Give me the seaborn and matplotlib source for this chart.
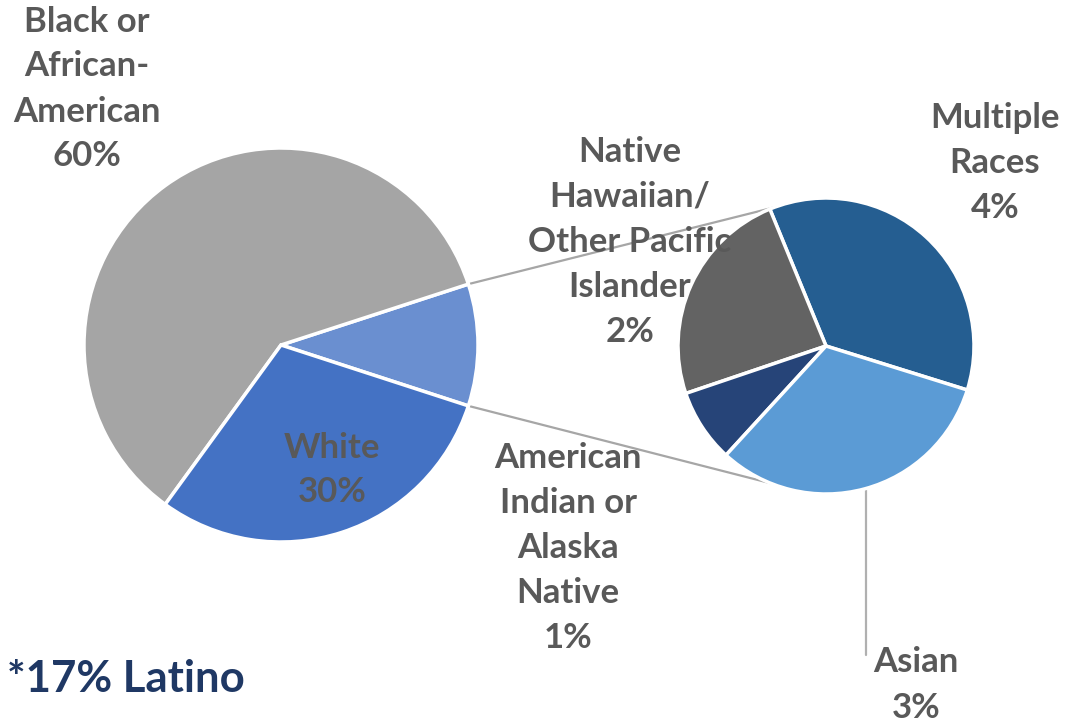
import numpy as np
import matplotlib
matplotlib.use("Agg")
import matplotlib.pyplot as plt
import seaborn as sns

# ---- data ----
main_names = ["Other races", "Black or\nAfrican-\nAmerican", "White"]
main_values = [10, 60, 30]
main_pct = ["", "60%", "30%"]
main_colors = ["#6A8FD0", "#A5A5A5", "#4472C4"]

sub_names = ["Multiple\nRaces", "Native\nHawaiian/\nOther Pacific\nIslander",
             "American\nIndian or\nAlaska\nNative", "Asian"]
sub_values = [3.6, 2.4, 0.8, 3.2]
sub_pct = ["4%", "2%", "1%", "3%"]
sub_colors = ["#255E91", "#636363", "#264478", "#5B9BD5"]

note_text = "*17% Latino"

# ---- layout ----
sns.set_theme(style="white")
plt.rcParams['font.family'] = ['Lato', 'DejaVu Sans']

W, H = 1066, 724
fig = plt.figure(figsize=(W / 100, H / 100), dpi=100)
ax = fig.add_axes([0, 0, 1, 1])
ax.set_xlim(0, W)
ax.set_ylim(0, H)
ax.set_aspect('equal')
ax.axis('off')

def py(y):
    return H - y

main_c = (281, py(345))
main_r = 197
sub_c = (826, py(346))
sub_r = 148

wedge_kw = dict(edgecolor="white", linewidth=2.5)
mw, _ = ax.pie(main_values, colors=main_colors, startangle=-18, counterclock=True,
               center=main_c, radius=main_r, wedgeprops=wedge_kw, frame=True)
sw, _ = ax.pie(sub_values, colors=sub_colors, startangle=-17.3, counterclock=True,
               center=sub_c, radius=sub_r, wedgeprops=wedge_kw, frame=True)
ax.set_xlim(0, W)
ax.set_ylim(0, H)
ax.axis('off')

# connector lines from "Other" slice to sub pie
other = mw[0]
line_col = "#A6A6A6"
for th_main, th_sub in [(other.theta2, 110.6), (other.theta1, -112.0)]:
    x0 = main_c[0] + main_r * np.cos(np.radians(th_main))
    y0 = main_c[1] + main_r * np.sin(np.radians(th_main))
    x1 = sub_c[0] + sub_r * np.cos(np.radians(th_sub))
    y1 = sub_c[1] + sub_r * np.sin(np.radians(th_sub))
    ax.plot([x0, x1], [y0, y1], color=line_col, lw=1.6, zorder=0.5)

# Asian leader line
ax.plot([866, 866], [py(490), py(655)], color="#B0B0B0", lw=1.6, zorder=0.5)

txt_kw = dict(ha="center", va="center", color="#595959", fontsize=25,
              fontweight="bold", linespacing=1.5, zorder=5)

def lab(name, pct):
    return name + "\n" + pct

ax.text(87, py(89), lab(main_names[1], main_pct[1]), **txt_kw)
ax.text(332, py(470), lab(main_names[2], main_pct[2]), **txt_kw)
ax.text(995, py(163), lab(sub_names[0], sub_pct[0]), **txt_kw)
ax.text(630, py(242), lab(sub_names[1], sub_pct[1]), **txt_kw)
ax.text(568, py(548), lab(sub_names[2], sub_pct[2]), **txt_kw)
ax.text(916, py(685), lab(sub_names[3], sub_pct[3]), **txt_kw)

ax.text(7, py(679), note_text, ha="left", va="center", color="#1F3864",
        fontsize=31.5, fontweight="bold", zorder=5)

fig.savefig("out.png", dpi=100)
